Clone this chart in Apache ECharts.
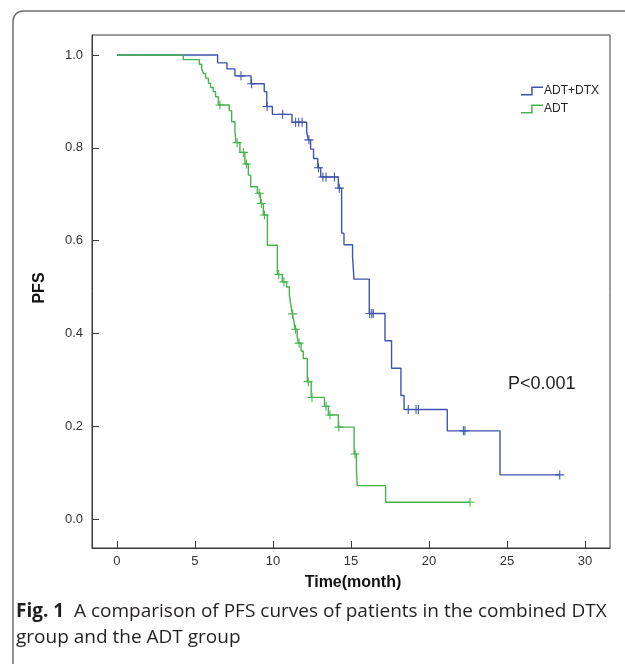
<!DOCTYPE html>
<html>
<head>
<meta charset="utf-8">
<script src="https://cdn.jsdelivr.net/npm/echarts@6/dist/echarts.min.js"></script>
<style>
html,body{margin:0;padding:0;background:#fff;}
#chart{width:625px;height:664px;}
</style>
</head>
<body>
<div id="chart"></div>
<script>
/*
* Kaplan-Meier PFS curves, ADT+DTX vs ADT
*/
// ADT+DTX: event times (month) and survival after each event
var dtxTimes = [0, 6.45, 7.05, 7.56, 8.59, 9.44, 9.6, 9.96, 11.22, 12.16, 12.26, 12.41, 12.6, 12.87, 13.06, 14.19, 14.4, 14.55, 15.1, 15.19, 16.17, 17.18, 17.6, 18.2, 18.4, 21.17, 24.55];
var dtxSurv  = [1.0, 0.983, 0.970, 0.955, 0.938, 0.921, 0.889, 0.872, 0.855, 0.835, 0.817, 0.797, 0.777, 0.757, 0.737, 0.713, 0.616, 0.591, 0.565, 0.517, 0.443, 0.384, 0.325, 0.266, 0.236, 0.190, 0.095];
var dtxCensor = [7.95, 8.63, 9.62, 10.62, 11.45, 11.65, 11.87, 12.3, 12.92, 13.2, 13.4, 13.94, 14.25, 16.2, 16.33, 16.43, 18.67, 19.17, 19.32, 22.2, 22.3, 28.38];
// ADT
var adtTimes = [0, 4.25, 5.28, 5.43, 5.55, 5.68, 5.86, 6.0, 6.17, 6.32, 6.5, 7.2, 7.35, 7.56, 7.63, 7.88, 8.2, 8.42, 8.57, 9.0, 9.2, 9.38, 9.64, 10.28, 10.6, 10.87, 11.05, 11.15, 11.24, 11.35, 11.4, 11.55, 11.62, 11.8, 11.94, 12.2, 12.45, 13.3, 13.55, 14.19, 15.2, 15.35, 15.4, 17.22];
var adtSurv  = [1.0, 0.99, 0.98, 0.97, 0.96, 0.95, 0.939, 0.93, 0.921, 0.91, 0.892, 0.88, 0.856, 0.835, 0.811, 0.79, 0.765, 0.741, 0.716, 0.702, 0.68, 0.655, 0.59, 0.527, 0.511, 0.5, 0.483, 0.46, 0.442, 0.425, 0.409, 0.394, 0.379, 0.362, 0.346, 0.296, 0.262, 0.243, 0.224, 0.198, 0.14, 0.106, 0.072, 0.036];
var adtCensor = [6.6, 7.7, 8.1, 8.3, 9.12, 9.25, 9.45, 10.37, 10.7, 11.26, 11.45, 11.67, 12.26, 12.5, 13.4, 13.65, 14.22, 15.26, 22.63];

var groupNames = ['ADT+DTX', 'ADT'];
var groupColors = ['#3F55AD', '#46B44E'];
var xTicks = [0, 5, 10, 15, 20, 25, 30];
var yTicks = [0, 0.2, 0.4, 0.6, 0.8, 1.0];

var plusSymbol = 'path://M4.4,0h1.2v4.4h4.4v1.2h-4.4v4.4h-1.2v-4.4h-4.4v-1.2h4.4z';
var stepIcon = 'path://M0,7.3H10.2V0H22V1.5H11.7V8.8H0Z';

function levelAt(times, surv, t){
	var v = surv[0];
	for(var i=0;i<times.length;i++){
		if(times[i] <= t) v = surv[i];
	}
	return v;
}
function stepData(times, surv, censor){
	var d = [];
	for(var i=0;i<times.length;i++) d.push([times[i], surv[i]]);
	var last = censor[censor.length-1];
	if(last > times[times.length-1]) d.push([last, surv[surv.length-1]]);
	return d;
}
function censorData(times, surv, censor){
	return censor.map(function(t){ return [t, levelAt(times, surv, t)]; });
}

var labelFont = 'Liberation Sans, Arial, sans-serif';
var capFont = 'Open Sans';

var option = {
	backgroundColor: '#fff',
	animation: false,
	grid: {
		left: 92, top: 35, right: 15, bottom: 116,
		show: true, borderColor: '#3a3a3a', borderWidth: 1
	},
	legend: {
		data: groupNames,
		orient: 'vertical',
		left: 516, top: 80,
		itemWidth: 22, itemHeight: 9, itemGap: 6,
		icon: stepIcon,
		textStyle: { fontSize: 12, color: '#222', fontFamily: labelFont, padding: [0,0,0,-4] }
	},
	xAxis: {
		type: 'value', min: -1.6, max: 31.6,
		axisLine: { show: true, onZero: false, lineStyle: { color: '#3a3a3a', width: 1 } },
		axisTick: { show: true, inside: true, length: 7, customValues: xTicks, lineStyle: { color: '#3a3a3a' } },
		axisLabel: { customValues: xTicks, margin: 7, fontSize: 13, color: '#333', fontFamily: labelFont },
		splitLine: { show: false }
	},
	yAxis: {
		type: 'value', min: -0.0625, max: 1.043,
		axisLine: { show: true, onZero: false, lineStyle: { color: '#3a3a3a', width: 1 } },
		axisTick: { show: true, inside: true, length: 7, customValues: yTicks, lineStyle: { color: '#3a3a3a' } },
		axisLabel: { customValues: yTicks, margin: 9, fontSize: 13, color: '#333', fontFamily: labelFont,
			formatter: function(v){ return v.toFixed(1); } },
		splitLine: { show: false }
	},
	series: [
		{
			name: groupNames[0], type: 'line', step: 'end', showSymbol: false,
			data: stepData(dtxTimes, dtxSurv, dtxCensor),
			lineStyle: { color: groupColors[0], width: 1.4 },
			itemStyle: { color: groupColors[0] }
		},
		{
			name: groupNames[1], type: 'line', step: 'end', showSymbol: false,
			data: stepData(adtTimes, adtSurv, adtCensor),
			lineStyle: { color: groupColors[1], width: 1.4 },
			itemStyle: { color: groupColors[1] }
		},
		{
			name: 'dtx-censor', type: 'scatter', symbol: plusSymbol, symbolSize: 9,
			data: censorData(dtxTimes, dtxSurv, dtxCensor),
			itemStyle: { color: groupColors[0], opacity: 1 }
		},
		{
			name: 'adt-censor', type: 'scatter', symbol: plusSymbol, symbolSize: 9,
			data: censorData(adtTimes, adtSurv, adtCensor),
			itemStyle: { color: groupColors[1], opacity: 1 }
		}
	],
	graphic: [
		{ type: 'rect', shape: { x: 13, y: 11, width: 800, height: 800, r: 10 },
		  style: { fill: 'none', stroke: '#6e6e6e', lineWidth: 1.5 } },
		{ type: 'text', x: 40, y: 288, rotation: Math.PI/2,
		  style: { text: 'PFS', font: 'bold 16px ' + labelFont, fill: '#111', align: 'center', verticalAlign: 'middle' } },
		{ type: 'text', x: 353, y: 583,
		  style: { text: 'Time(month)', font: 'bold 16px ' + labelFont, fill: '#111', align: 'center', verticalAlign: 'middle' } },
		{ type: 'text', x: 508, y: 384,
		  style: { text: 'P<0.001', font: '18px ' + labelFont, fill: '#222', align: 'left', verticalAlign: 'middle' } },
		{ type: 'text', x: 16, y: 612,
		  style: { text: '{b|Fig. 1}  A comparison of PFS curves of patients in the combined DTX',
		           rich: { b: { fontWeight: 'bold', fontSize: 19, fontFamily: capFont, fill: '#231f20' } },
		           fontSize: 19, fontFamily: capFont, fill: '#231f20', verticalAlign: 'middle' } },
		{ type: 'text', x: 16, y: 638,
		  style: { text: 'group and the ADT group', fontSize: 19, fontFamily: capFont, fill: '#231f20', verticalAlign: 'middle' } }
	]
};

var myChart = echarts.init(document.getElementById('chart'));
myChart.setOption(option);
</script>
</body>
</html>
